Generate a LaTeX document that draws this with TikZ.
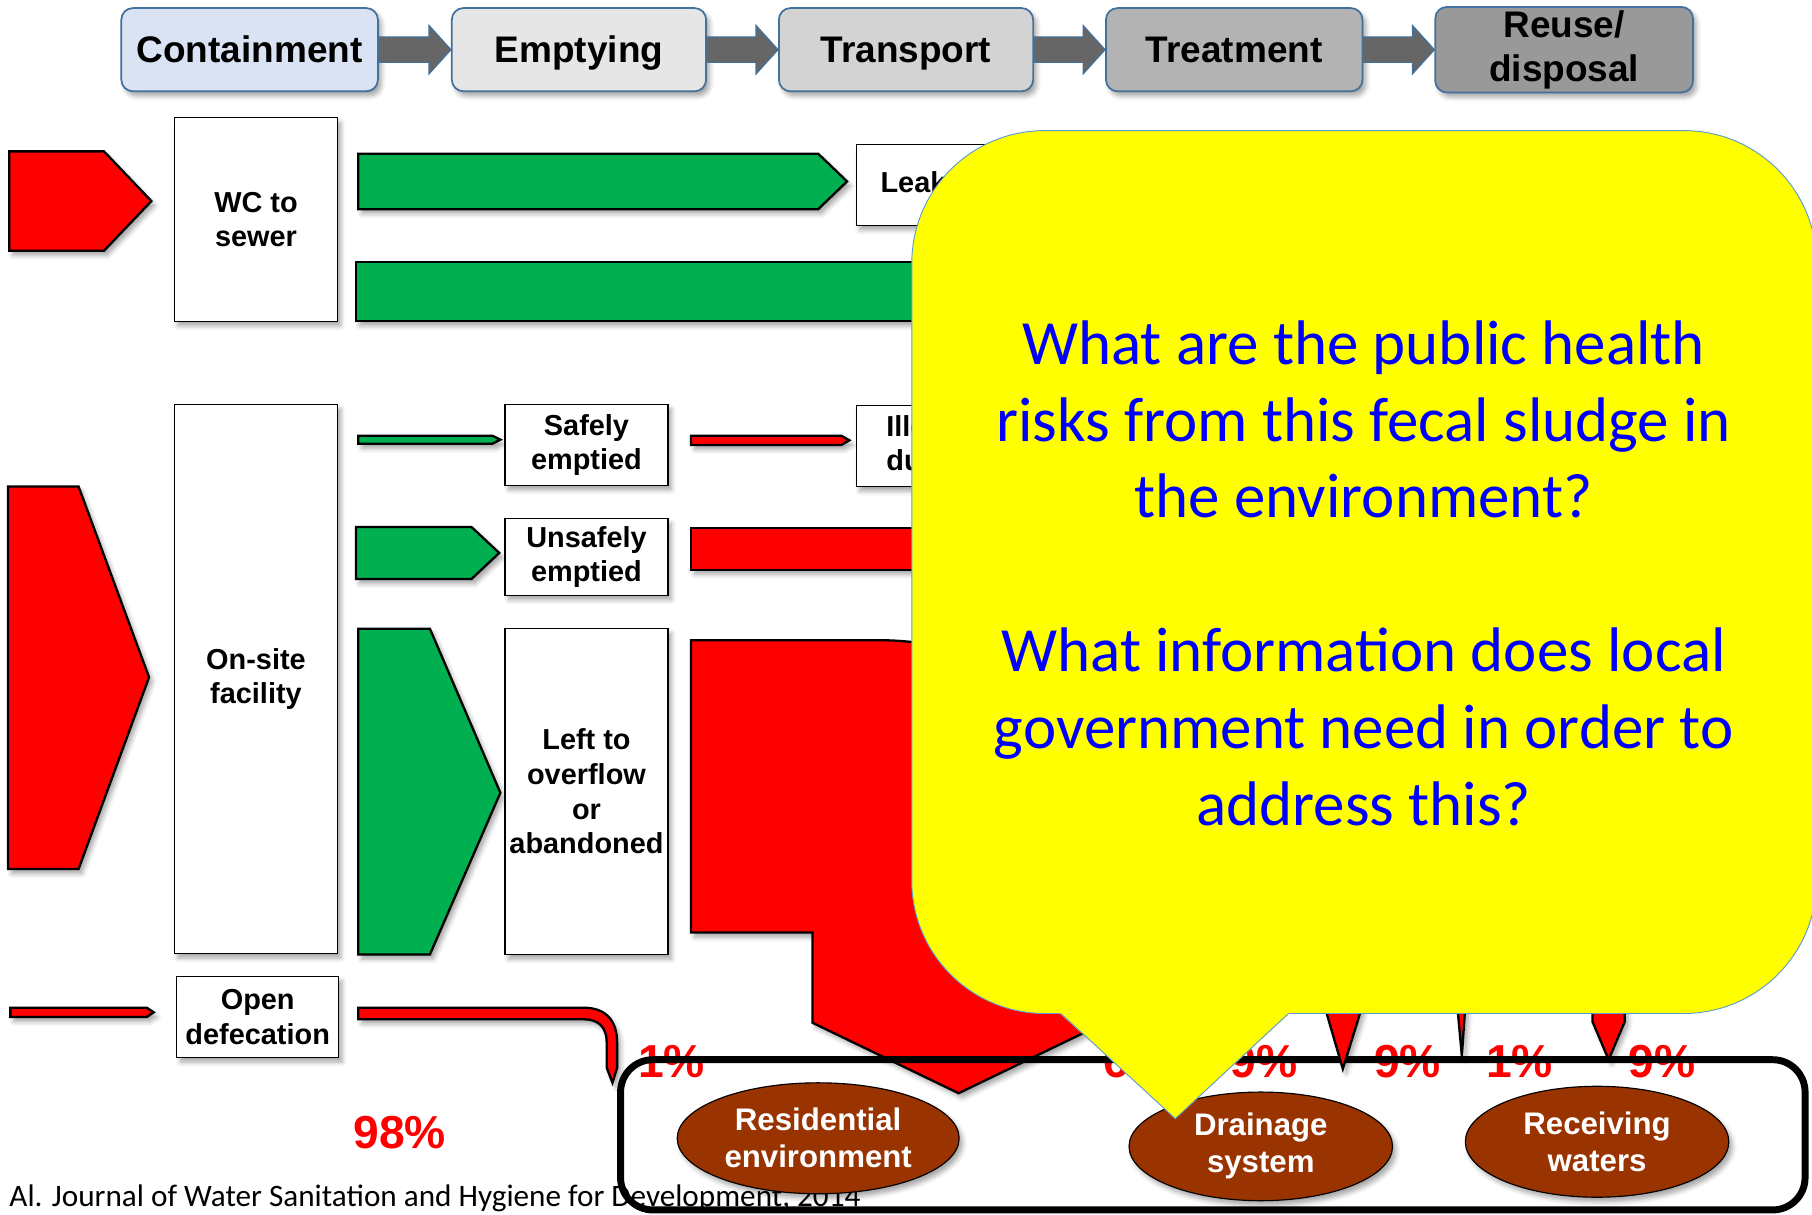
\documentclass[tikz,border=0pt]{standalone}
\usepackage{fontspec}
\setmainfont{Liberation Sans}
\newfontfamily\calib{Carlito}
\usetikzlibrary{shapes.geometric,shadows.blur,calc}

\definecolor{flowred}{HTML}{FF0000}
\definecolor{flowgreen}{HTML}{00B050}
\definecolor{soil}{HTML}{993300}
\definecolor{frameblue}{HTML}{41719C}
\definecolor{stepA}{HTML}{DAE3F3}
\definecolor{stepB}{HTML}{E6E6E6}
\definecolor{stepC}{HTML}{D3D3D3}
\definecolor{stepD}{HTML}{B3B3B3}
\definecolor{stepE}{HTML}{999999}
\definecolor{arrowgray}{HTML}{666666}
\definecolor{calloutborder}{HTML}{5B9BD5}
\definecolor{qblue}{HTML}{0000FF}
\definecolor{qyellow}{HTML}{FFFF00}

\tikzset{
  softshadow/.style={blur shadow={shadow xshift=3pt, shadow yshift=-4pt,
      shadow blur radius=4pt, shadow opacity=35}},
  stage/.style={draw=frameblue, line width=1.5pt, rounded corners=10pt,
      minimum height=72pt, inner sep=0pt, align=center,
      font=\fontsize{32}{38}\selectfont\bfseries, softshadow},
  stagearrow/.style={fill=arrowgray, draw=frameblue, line width=1pt},
  flow/.style={draw=black, line width=2pt, softshadow},
  redflow/.style={flow, fill=flowred},
  greenflow/.style={flow, fill=flowgreen},
  stepbox/.style={draw=black, line width=1pt, fill=white, inner sep=0pt,
      align=center, font=\fontsize{25}{30}\selectfont\bfseries, softshadow},
  place/.style={ellipse, draw=black, line width=1pt, fill=soil, text=white,
      inner sep=0pt, align=center, font=\fontsize{27}{32}\selectfont\bfseries,
      softshadow},
  share/.style={text=flowred, anchor=base, inner sep=0pt,
      font=\fontsize{40}{48}\selectfont\bfseries}
}

% block arrow between two stage boxes
\newcommand\stagelink[2]{%
  \draw[stagearrow] ($(#1.east)+(0,-11)$) -- ($(#2.west)+(-19,-11)$)
    -- ($(#2.west)+(-19,-21)$) -- (#2.west) -- ($(#2.west)+(-19,21)$)
    -- ($(#2.west)+(-19,11)$) -- ($(#1.east)+(0,11)$) -- cycle;}

\begin{document}
\begin{tikzpicture}[x=1pt,y=-1pt]
\useasboundingbox (0,0) rectangle (1568,1051);

% ---- service chain header ----
\node[stage, fill=stepA, minimum width=222pt, text height=23pt, text depth=0pt] (contain) at (216,43) {Containment};
\node[stage, fill=stepB, minimum width=220pt, text height=23pt, text depth=0pt] (empty) at (501,43) {Emptying};
\node[stage, fill=stepC, minimum width=220pt, text height=23pt, text depth=0pt] (transport) at (784,43) {Transport};
\node[stage, fill=stepD, minimum width=222pt, text height=23pt, text depth=0pt] (treat) at (1068,43) {Treatment};
\node[stage, fill=stepE, minimum width=223pt, minimum height=74pt] (reuse) at (1353.5,43) {Reuse/\\disposal};
\stagelink{contain}{empty}
\stagelink{empty}{transport}
\stagelink{transport}{treat}
\stagelink{treat}{reuse}

% ---- sewered sanitation ----
\draw[redflow] (8,131) -- (90,131) -- (131,174) -- (90,217) -- (8,217) -- cycle;
\node[stepbox, minimum width=141pt, minimum height=176pt] (wc) at (221.5,190) {WC to\\sewer};
\draw[greenflow] (310,133) -- (708,133) -- (733,157) -- (708,181) -- (310,181) -- cycle;
\node[stepbox, minimum width=160pt, minimum height=70pt, text width=118pt, align=left] (leak) at (821,160) {Leakage};
\draw[greenflow] (308,227) rectangle (900,278);

% ---- on-site sanitation ----
\draw[greenflow] (310,377) -- (426,377) -- (433,380.5) -- (426,384) -- (310,384) -- cycle;
\node[stepbox, minimum width=141pt, minimum height=70pt] (safe) at (507.5,385) {Safely\\emptied};
\draw[redflow] (598,377) -- (728,377) -- (735,381) -- (728,385) -- (598,385) -- cycle;
\node[stepbox, minimum width=160pt, minimum height=70pt, text width=108pt, align=left] (dump) at (821,386) {Illegal\\dumping};

\draw[greenflow] (308,456) -- (408,456) -- (432,478.5) -- (408,501) -- (308,501) -- cycle;
\node[stepbox, minimum width=141pt, minimum height=66pt] (unsafe) at (507.5,482) {Unsafely\\emptied};
\draw[redflow] (598,457) rectangle (900,493);

\draw[redflow] (7,421) -- (68,421) -- (129,586) -- (68,752) -- (7,752) -- cycle;
\node[stepbox, minimum width=141pt, minimum height=475pt] (onsite) at (221.5,587.5) {On-site\\facility};
\draw[greenflow] (310,544) -- (372,544) -- (433,686) -- (372,826) -- (310,826) -- cycle;
\node[stepbox, minimum width=141pt, minimum height=282pt] (overflow) at (507.5,685) {Left to\\overflow\\or\\abandoned};
\draw[redflow] (598,554) -- (760,554) .. controls (880,554) and (956,630) .. (956,750)
  -- (956,885) -- (829.5,946) -- (703,885) -- (703,807) -- (598,807) -- cycle;

% ---- open defecation ----
\draw[redflow] (9,872) -- (127,872) -- (133,876) -- (127,880) -- (9,880) -- cycle;
\node[stepbox, minimum width=140pt, minimum height=70pt] (opendef) at (223,880) {Open\\defecation};
\draw[redflow] (310,872) -- (505,872) .. controls (525,872) and (534,884) .. (534,902)
  -- (534,924) -- (530,937) -- (525,924) -- (525,902)
  .. controls (525,889) and (518,882) .. (505,882) -- (310,882) -- cycle;

\node[share] (total) at (346,994) {98\%};

% ---- source ----
\node[anchor=base west, inner sep=0pt, font=\calib\fontsize{27}{32}\selectfont] (source) at (8,1044)
  {Al. Journal of Water Sanitation and Hygiene for Development, 2014};

% ---- shares reaching the environment ----
\node[share] (s1) at (581,932) {1\%};
\node[share] (s2) at (995,932) {69\%};
\node[share] (s3) at (1094,932) {9\%};
\node[share] (s4) at (1218,932) {9\%};
\node[share] (s5) at (1315,932) {1\%};
\node[share] (s6) at (1438,932) {9\%};

\draw[line width=6pt, rounded corners=28pt] (537,917) rectangle (1562,1047);

\node[place, minimum width=244pt, minimum height=96pt] (resid) at (708,985) {Residential\\environment};
\node[place, minimum width=228pt, minimum height=94pt] (drain) at (1091,992) {Drainage\\system};
\node[place, minimum width=228pt, minimum height=96pt] (recv) at (1382,988) {Receiving\\waters};

\draw[redflow] (1146,870) -- (1179,870) -- (1162,925) -- cycle;
\draw[redflow] (1261,870) -- (1268,870) -- (1265,914) -- cycle;
\draw[redflow] (1378,870) -- (1406,870) -- (1406,884) -- (1392,917) -- (1378,884) -- cycle;

% ---- question callout ----
\node[draw=calloutborder, fill=qyellow, line width=0.8pt, rounded corners=115pt,
      minimum width=783pt, minimum height=764pt, inner sep=0pt] (callout) at (1180.5,495) {};
\fill[qyellow] (914,874) -- (1017,968) -- (1119,874) -- cycle;
\draw[calloutborder, line width=0.8pt] (918,877) -- (1017,968) -- (1115,877);
\node[font=\calib\fontsize{54.5}{66.5}\selectfont, text=qblue, align=center] (question) at (1180,496)
  {What are the public health\\risks from this fecal sludge in\\the environment?\\[66.5pt]What information does local\\government need in order to\\address this?};

\end{tikzpicture}
\end{document}
